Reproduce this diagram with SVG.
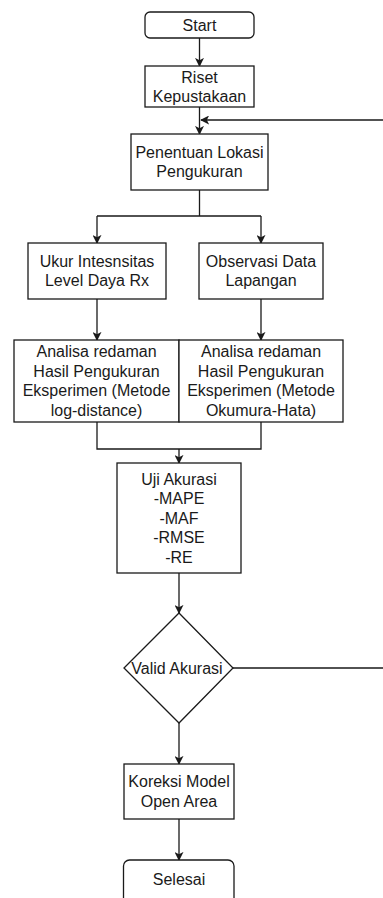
<svg xmlns="http://www.w3.org/2000/svg" width="383" height="898" viewBox="0 0 383 898">
<defs>
<marker id="arr" viewBox="0 0 10 10" refX="9" refY="5" markerWidth="9" markerHeight="9" markerUnits="userSpaceOnUse" orient="auto">
<path d="M0,0 L10,5 L0,10 L2.5,5 Z" fill="#1a1a1a"/>
</marker>
<style>
.box{fill:#fff;stroke:#1a1a1a;stroke-width:1.3}
.t{font-family:"Liberation Sans",Arial,sans-serif;font-size:16px;fill:#1a1a1a;text-anchor:middle}
.c{fill:none;stroke:#1a1a1a;stroke-width:1.3}
.a{marker-end:url(#arr)}
</style>
</defs>
<rect width="383" height="898" fill="#fff"/>
<g id="connectors">
<path class="c a" d="M199.5,38 V66"/>
<path class="c a" d="M199.5,107 V134"/>
<path class="c" d="M199.5,190 V216 M97,216 H261"/>
<path class="c a" d="M97,216 V243"/>
<path class="c a" d="M261,216 V243"/>
<path class="c a" d="M97,299 V340"/>
<path class="c a" d="M261,299 V340"/>
<path class="c" d="M97,422 V449 H261 V422"/>
<path class="c a" d="M179,449 V463"/>
<path class="c a" d="M179,573 V613"/>
<path class="c a" d="M179,723 V764"/>
<path class="c a" d="M179,819 V860"/>
<path class="c a" d="M233,668 H395 V120 H201"/>
</g>
<g id="start">
<rect class="box" x="145" y="12" width="109" height="26" rx="5"/>
<text class="t" x="199.5" y="30.5">Start</text>
</g>
<g id="riset">
<rect class="box" x="145" y="66" width="109" height="41"/>
<text class="t" x="199.5" y="82.5">Riset</text>
<text class="t" x="199.5" y="102">Kepustakaan</text>
</g>
<g id="penentuan">
<rect class="box" x="131" y="134" width="137" height="56"/>
<text class="t" x="199.5" y="157.5">Penentuan Lokasi</text>
<text class="t" x="199.5" y="177">Pengukuran</text>
</g>
<g id="ukur">
<rect class="box" x="28" y="243" width="138" height="56"/>
<text class="t" x="97" y="266.5">Ukur Intesnsitas</text>
<text class="t" x="97" y="286">Level Daya Rx</text>
</g>
<g id="observasi">
<rect class="box" x="199" y="243" width="124" height="56"/>
<text class="t" x="261" y="266.5">Observasi Data</text>
<text class="t" x="261" y="286">Lapangan</text>
</g>
<g id="analisa-log">
<rect class="box" x="14" y="340" width="165" height="82"/>
<text class="t" x="96.5" y="357.3">Analisa redaman</text>
<text class="t" x="96.5" y="376.8">Hasil Pengukuran</text>
<text class="t" x="96.5" y="396.3">Eksperimen (Metode</text>
<text class="t" x="96.5" y="415.8">log-distance)</text>
</g>
<g id="analisa-okumura">
<rect class="box" x="179" y="340" width="164" height="82"/>
<text class="t" x="261" y="357.3">Analisa redaman</text>
<text class="t" x="261" y="376.8">Hasil Pengukuran</text>
<text class="t" x="261" y="396.3">Eksperimen (Metode</text>
<text class="t" x="261" y="415.8">Okumura-Hata)</text>
</g>
<g id="uji">
<rect class="box" x="117" y="463" width="124" height="110"/>
<text class="t" x="179" y="484.5">Uji Akurasi</text>
<text class="t" x="179" y="504">-MAPE</text>
<text class="t" x="179" y="523.5">-MAF</text>
<text class="t" x="179" y="543">-RMSE</text>
<text class="t" x="179" y="562.5">-RE</text>
</g>
<g id="valid">
<path class="box" d="M179,613 L233,668 L179,723 L124,668 Z"/>
<text class="t" x="177" y="673.5">Valid Akurasi</text>
</g>
<g id="koreksi">
<rect class="box" x="124" y="764" width="110" height="55"/>
<text class="t" x="179" y="787.3">Koreksi Model</text>
<text class="t" x="179" y="806.8">Open Area</text>
</g>
<g id="selesai">
<rect class="box" x="123.5" y="860" width="110.5" height="44" rx="6"/>
<text class="t" x="179" y="884.5">Selesai</text>
</g>
</svg>
